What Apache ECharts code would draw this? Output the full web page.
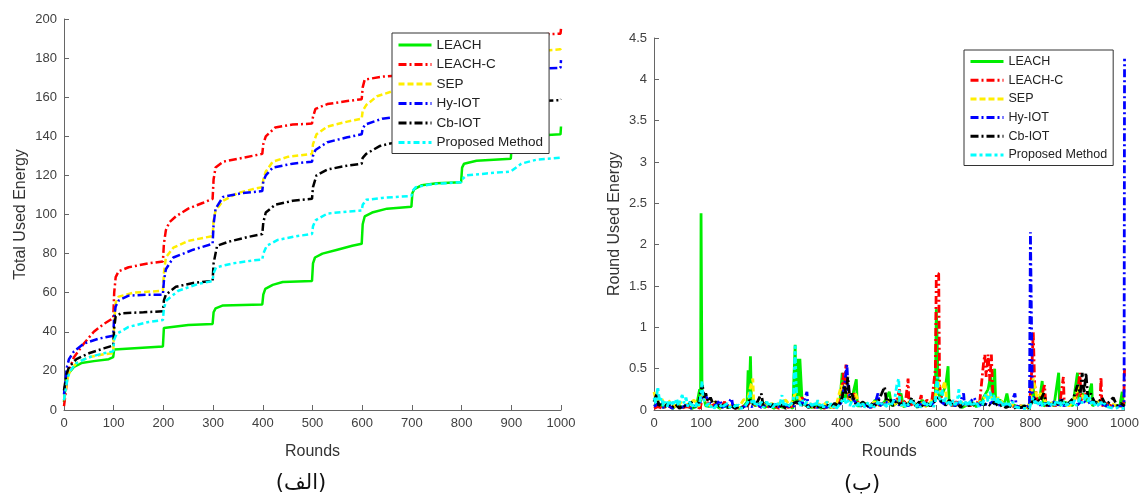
<!DOCTYPE html>
<html>
<head>
<meta charset="utf-8">
<script src="https://cdn.jsdelivr.net/npm/echarts@6/dist/echarts.min.js"></script>
<style>
html,body{margin:0;padding:0;background:#fff;}
#chart{width:1142px;height:495px;}
</style>
</head>
<body>
<div id="chart"></div>
<script>
// ---------- DATA ----------
const seriesNames = ['LEACH','LEACH-C','SEP','Hy-IOT','Cb-IOT','Proposed Method'];
const xTicks = [0,100,200,300,400,500,600,700,800,900,1000];
const totalTicks = [0,20,40,60,80,100,120,140,160,180,200];
const roundTicks = [0,0.5,1,1.5,2,2.5,3,3.5,4,4.5];

// Total Used Energy (left chart), [round, value]
const totalLEACH = [[0,4],[2,10],[5,16],[10,19],[20,22],[35,24],[60,25],[90,26],[99,27],[101,31],[105,32],[199,32.5],[201,42],[205,43],[250,43.5],[299,44],[301,50],[305,52],[320,53.5],[399,54],[401,59],[405,62],[420,64],[440,65.5],[499,66],[501,75],[505,78],[520,80],[550,82],[580,84],[599,85],[601,95],[605,99],[620,101],[650,103],[699,104],[701,111],[705,113],[720,115],[750,116],[799,116.5],[801,124],[805,126],[830,127.5],[899,128.5],[901,136],[905,138],[930,140],[999,141],[1000,145]];
const totalLEACHC = [[0,2],[3,8],[6,15],[10,20],[20,27],[40,34],[60,40],[80,44],[99,47],[101,60],[104,68],[110,71],[130,73],[170,75],[199,76],[201,85],[205,92],[212,96],[225,99],[250,103],[280,106],[299,108],[301,118],[305,124],[320,127],[360,129],[399,131],[401,136],[406,140],[425,144.5],[460,146],[499,146.5],[501,150],[506,154],[530,156.5],[570,158],[599,159],[601,165],[605,169],[640,170.5],[699,171.5],[701,177],[705,179],[799,182],[801,186],[805,188],[899,190],[901,191],[950,192],[999,192.5],[1000,195]];
const totalSEP = [[0,5],[3,10],[7,16],[12,20],[25,24],[50,27],[80,28.5],[99,29],[101,45],[104,55],[110,58],[140,60],[199,61],[201,70],[205,78],[220,83],[250,86.5],[280,88],[299,89],[301,97],[305,102],[320,107],[350,111],[380,113],[399,114],[401,118],[406,122],[420,127],[450,129.5],[499,131],[501,136],[508,141],[530,145],[570,147.5],[599,149],[601,153],[608,156],[630,160.5],[660,163],[699,164],[701,168],[799,172],[801,176],[899,179],[901,181],[950,183.5],[999,184.5],[1000,185]];
const totalHyIOT = [[0,8],[3,15],[6,22],[10,26],[20,30],[40,34],[70,36.5],[99,38],[101,48],[104,53],[110,56],[130,58.5],[170,59],[199,59],[201,66],[205,72],[220,78],[260,82],[299,85],[301,95],[305,103],[320,109],[360,111],[399,112],[401,117],[406,120],[420,124],[460,126],[499,127],[501,130],[506,133],[530,137],[570,139.5],[599,141],[601,144],[606,146],[640,149],[670,150],[699,151],[701,156],[799,160],[801,166],[899,170],[901,172],[950,174.5],[999,175],[1000,179]];
const totalCbIOT = [[0,10],[3,15],[6,19],[10,22],[25,26],[50,29],[80,31.5],[99,33],[101,42],[104,48],[115,49.5],[160,50],[199,50.5],[201,56],[205,59],[225,63],[260,65],[299,66],[301,75],[308,84],[330,86],[370,88.5],[399,90],[401,96],[406,101],[425,105],[460,107],[499,108],[501,114],[508,120],[530,123],[570,125],[599,126],[601,129],[608,131],[635,135],[660,136.5],[699,137],[701,143],[799,147],[801,151],[899,155],[901,156],[950,158],[999,158.5],[1000,159]];
const totalProposed = [[0,5],[3,10],[7,16],[12,20],[25,24],[50,27],[80,29],[99,30],[101,36],[106,39],[130,42.5],[170,45],[199,46],[201,52],[206,56],[230,61],[270,64.5],[299,66],[301,70],[306,73],[340,75],[380,76.5],[399,77],[401,80],[408,84],[430,87],[470,89],[499,90],[501,94],[506,97],[530,100.5],[570,101.5],[599,102],[601,105],[608,107.5],[640,108.5],[699,109.5],[701,112],[708,114],[740,115.5],[799,116.5],[801,118],[810,120],[850,121],[899,122],[901,123],[920,126],[950,128],[999,129]];

// Round Used Energy (right chart), [round, value]
const roundLEACH = [[0,0.05],[10,0.08],[20,0.03],[30,0.06],[40,0.02],[50,0.07],[60,0.03],[70,0.05],[80,0.02],[90,0.04],[97,0.25],[99,0.1],[100,2.38],[101,2.38],[102,0.25],[110,0.05],[120,0.04],[130,0.06],[140,0.02],[150,0.05],[160,0.03],[170,0.06],[180,0.02],[190,0.04],[198,0.1],[200,0.48],[202,0.1],[205,0.65],[207,0.1],[215,0.05],[225,0.08],[235,0.03],[245,0.06],[255,0.02],[265,0.05],[275,0.03],[285,0.06],[295,0.02],[300,0.79],[302,0.1],[305,0.62],[308,0.1],[310,0.62],[313,0.62],[315,0.08],[325,0.05],[335,0.03],[345,0.06],[355,0.02],[365,0.05],[375,0.03],[385,0.06],[395,0.1],[400,0.45],[403,0.1],[410,0.2],[420,0.1],[425,0.25],[430,0.37],[432,0.05],[440,0.05],[450,0.08],[460,0.03],[470,0.12],[480,0.05],[490,0.1],[500,0.22],[505,0.05],[515,0.08],[525,0.2],[530,0.04],[540,0.06],[550,0.1],[560,0.03],[570,0.12],[580,0.05],[590,0.08],[598,0.2],[600,1.22],[602,0.8],[604,0.2],[610,0.15],[620,0.3],[625,0.53],[627,0.1],[635,0.05],[645,0.08],[655,0.03],[665,0.06],[675,0.1],[685,0.04],[695,0.08],[700,0.15],[710,0.25],[715,0.4],[720,0.15],[724,0.5],[726,0.1],[735,0.12],[745,0.08],[750,0.2],[755,0.05],[765,0.06],[775,0.03],[785,0.05],[795,0.02],[800,0.1],[805,0.3],[810,0.08],[820,0.15],[825,0.35],[828,0.05],[840,0.08],[850,0.05],[860,0.45],[862,0.05],[870,0.1],[880,0.08],[890,0.05],[900,0.45],[903,0.1],[910,0.2],[920,0.1],[930,0.32],[932,0.05],[940,0.08],[950,0.1],[960,0.05],[970,0.04],[980,0.06],[990,0.05],[995,0.22],[998,0.05],[1000,0.1]];
const roundLEACHC = [[0,0.02],[8,0.04],[18,0.02],[28,0.05],[38,0.03],[48,0.06],[58,0.02],[68,0.04],[78,0.03],[88,0.05],[98,0.02],[105,0.2],[112,0.1],[122,0.05],[132,0.08],[142,0.03],[150,0.1],[155,0.03],[165,0.06],[175,0.02],[185,0.05],[195,0.03],[205,0.1],[215,0.06],[225,0.04],[235,0.08],[245,0.03],[255,0.05],[265,0.02],[275,0.06],[285,0.03],[295,0.05],[305,0.1],[315,0.15],[322,0.05],[332,0.06],[342,0.03],[352,0.05],[362,0.02],[372,0.06],[382,0.03],[392,0.07],[400,0.3],[402,0.45],[404,0.2],[408,0.55],[410,0.3],[415,0.1],[425,0.2],[435,0.08],[445,0.05],[455,0.06],[465,0.03],[475,0.08],[485,0.05],[495,0.1],[505,0.08],[515,0.1],[522,0.25],[525,0.05],[535,0.12],[540,0.38],[542,0.05],[552,0.08],[562,0.05],[568,0.18],[570,0.05],[580,0.12],[590,0.08],[598,0.5],[600,1.65],[605,1.65],[607,0.3],[612,0.1],[622,0.08],[632,0.05],[642,0.1],[652,0.04],[662,0.08],[672,0.05],[682,0.1],[692,0.08],[700,0.55],[703,0.67],[706,0.4],[710,0.67],[714,0.35],[717,0.67],[720,0.2],[728,0.1],[738,0.08],[748,0.05],[758,0.06],[768,0.03],[778,0.05],[788,0.04],[798,0.03],[803,0.5],[806,0.94],[809,0.3],[815,0.1],[825,0.2],[830,0.3],[833,0.05],[843,0.08],[853,0.05],[863,0.1],[870,0.4],[872,0.05],[882,0.08],[892,0.1],[900,0.2],[905,0.45],[908,0.1],[918,0.2],[928,0.1],[938,0.08],[948,0.1],[950,0.4],[952,0.05],[962,0.08],[972,0.05],[982,0.04],[992,0.03],[998,0.05],[1000,0.5]];
const roundSEP = [[0,0.22],[5,0.1],[15,0.15],[25,0.05],[35,0.12],[45,0.04],[55,0.1],[65,0.05],[75,0.08],[85,0.12],[95,0.04],[103,0.2],[110,0.08],[120,0.05],[130,0.1],[140,0.03],[150,0.06],[160,0.04],[170,0.08],[180,0.03],[190,0.12],[200,0.15],[206,0.3],[210,0.38],[212,0.1],[220,0.06],[230,0.1],[240,0.04],[250,0.08],[260,0.05],[270,0.1],[280,0.12],[290,0.05],[300,0.2],[308,0.15],[318,0.06],[328,0.1],[338,0.04],[348,0.08],[358,0.05],[368,0.1],[378,0.03],[388,0.07],[398,0.3],[403,0.2],[410,0.3],[418,0.1],[428,0.2],[438,0.06],[448,0.08],[458,0.04],[468,0.1],[478,0.05],[488,0.08],[498,0.12],[508,0.06],[518,0.1],[528,0.05],[538,0.08],[548,0.12],[558,0.05],[568,0.08],[578,0.04],[588,0.1],[598,0.15],[603,0.35],[610,0.2],[618,0.35],[622,0.1],[632,0.08],[642,0.05],[652,0.1],[662,0.06],[672,0.08],[682,0.05],[692,0.1],[702,0.15],[712,0.2],[722,0.1],[732,0.15],[742,0.08],[752,0.05],[762,0.06],[772,0.04],[782,0.05],[792,0.03],[800,0.1],[806,0.38],[810,0.4],[814,0.15],[822,0.2],[832,0.1],[842,0.08],[852,0.1],[862,0.06],[872,0.08],[882,0.05],[892,0.1],[902,0.3],[912,0.15],[922,0.1],[932,0.08],[942,0.1],[952,0.06],[962,0.05],[972,0.08],[982,0.05],[992,0.04],[1000,0.05]];
const roundHyIOT = [[0,0.04],[9,0.08],[19,0.03],[29,0.06],[39,0.02],[49,0.05],[59,0.03],[69,0.06],[79,0.02],[89,0.05],[99,0.1],[106,0.2],[112,0.15],[120,0.08],[130,0.05],[140,0.12],[145,0.03],[155,0.06],[165,0.14],[168,0.03],[178,0.05],[188,0.03],[198,0.06],[208,0.04],[218,0.08],[228,0.03],[238,0.06],[248,0.04],[258,0.07],[268,0.03],[278,0.06],[288,0.04],[298,0.05],[308,0.1],[318,0.08],[325,0.22],[327,0.05],[337,0.06],[347,0.03],[357,0.05],[367,0.03],[377,0.06],[387,0.04],[397,0.08],[405,0.3],[410,0.55],[413,0.2],[420,0.15],[430,0.08],[440,0.05],[450,0.06],[460,0.03],[470,0.08],[476,0.2],[480,0.05],[490,0.1],[500,0.08],[510,0.12],[520,0.06],[530,0.08],[540,0.05],[550,0.1],[560,0.04],[570,0.08],[580,0.05],[590,0.06],[600,0.15],[610,0.1],[620,0.06],[630,0.08],[640,0.05],[650,0.1],[658,0.2],[660,0.05],[670,0.08],[680,0.15],[690,0.05],[700,0.08],[710,0.06],[720,0.1],[730,0.05],[740,0.08],[750,0.05],[760,0.1],[767,0.2],[770,0.05],[780,0.03],[790,0.04],[798,0.05],[800,2.15],[802,2.15],[804,0.2],[810,0.1],[820,0.06],[830,0.08],[840,0.05],[850,0.1],[860,0.06],[866,0.15],[870,0.05],[880,0.08],[890,0.1],[900,0.06],[910,0.12],[920,0.08],[930,0.1],[940,0.05],[950,0.08],[960,0.05],[970,0.06],[980,0.04],[990,0.05],[999,0.05],[1000,4.25]];
const roundCbIOT = [[0,0.1],[6,0.2],[10,0.05],[16,0.1],[22,0.04],[30,0.08],[38,0.03],[46,0.07],[54,0.02],[62,0.06],[70,0.03],[78,0.1],[86,0.04],[94,0.06],[100,0.25],[103,0.3],[106,0.15],[110,0.2],[115,0.1],[120,0.15],[125,0.08],[132,0.1],[140,0.04],[148,0.06],[156,0.03],[164,0.05],[172,0.02],[180,0.04],[188,0.03],[196,0.05],[204,0.12],[212,0.06],[220,0.1],[228,0.2],[232,0.05],[240,0.1],[248,0.04],[256,0.08],[264,0.03],[272,0.06],[280,0.02],[288,0.05],[296,0.08],[304,0.1],[312,0.05],[320,0.08],[328,0.03],[336,0.06],[344,0.02],[352,0.05],[360,0.03],[368,0.06],[376,0.04],[384,0.08],[392,0.05],[400,0.15],[404,0.3],[408,0.2],[412,0.4],[416,0.15],[420,0.2],[428,0.08],[436,0.06],[444,0.1],[452,0.04],[460,0.08],[468,0.05],[476,0.1],[484,0.2],[490,0.28],[494,0.1],[500,0.15],[508,0.05],[516,0.12],[524,0.06],[532,0.1],[540,0.05],[548,0.15],[556,0.05],[564,0.1],[572,0.04],[580,0.08],[588,0.05],[596,0.1],[604,0.15],[612,0.1],[620,0.06],[628,0.12],[636,0.05],[644,0.08],[652,0.03],[660,0.1],[668,0.05],[676,0.08],[684,0.04],[692,0.1],[700,0.06],[708,0.08],[716,0.05],[724,0.1],[732,0.04],[740,0.06],[748,0.03],[756,0.05],[764,0.02],[772,0.04],[780,0.03],[788,0.05],[796,0.02],[804,0.1],[812,0.15],[820,0.1],[828,0.2],[836,0.05],[844,0.1],[852,0.06],[860,0.08],[868,0.12],[876,0.05],[884,0.1],[892,0.15],[900,0.3],[906,0.2],[910,0.45],[914,0.2],[918,0.45],[922,0.15],[928,0.2],[936,0.1],[944,0.08],[952,0.15],[960,0.06],[968,0.1],[976,0.15],[984,0.05],[992,0.08],[1000,0.05]];
const roundProposed = [[0,0.15],[4,0.08],[8,0.28],[12,0.1],[16,0.15],[20,0.05],[24,0.1],[28,0.04],[32,0.12],[36,0.05],[40,0.1],[44,0.06],[48,0.14],[52,0.05],[56,0.12],[60,0.18],[64,0.08],[68,0.15],[72,0.04],[76,0.1],[80,0.03],[84,0.08],[88,0.04],[92,0.1],[96,0.05],[100,0.2],[102,0.35],[104,0.15],[108,0.1],[112,0.05],[116,0.08],[120,0.03],[124,0.06],[128,0.02],[132,0.05],[136,0.03],[140,0.07],[144,0.02],[148,0.05],[152,0.03],[156,0.08],[160,0.04],[164,0.06],[168,0.02],[172,0.05],[176,0.03],[180,0.06],[184,0.02],[188,0.04],[192,0.03],[196,0.05],[200,0.1],[204,0.22],[208,0.08],[212,0.12],[216,0.04],[220,0.08],[224,0.05],[228,0.1],[232,0.03],[236,0.07],[240,0.1],[244,0.04],[248,0.08],[252,0.03],[256,0.06],[260,0.1],[264,0.04],[268,0.08],[272,0.18],[276,0.05],[280,0.08],[284,0.03],[288,0.06],[292,0.04],[296,0.1],[300,0.78],[302,0.3],[304,0.15],[308,0.1],[312,0.05],[316,0.12],[320,0.06],[324,0.1],[328,0.03],[332,0.08],[336,0.05],[340,0.1],[344,0.04],[348,0.12],[352,0.05],[356,0.08],[360,0.03],[364,0.06],[368,0.1],[372,0.04],[376,0.08],[380,0.03],[384,0.06],[388,0.02],[392,0.05],[396,0.08],[400,0.1],[404,0.15],[408,0.08],[412,0.12],[416,0.05],[420,0.1],[424,0.04],[428,0.08],[432,0.05],[436,0.1],[440,0.04],[444,0.08],[448,0.03],[452,0.06],[456,0.1],[460,0.04],[464,0.08],[468,0.03],[472,0.06],[476,0.1],[480,0.05],[484,0.08],[488,0.04],[492,0.07],[496,0.03],[500,0.08],[504,0.05],[508,0.1],[512,0.15],[516,0.3],[520,0.38],[522,0.1],[526,0.05],[530,0.1],[534,0.04],[538,0.08],[542,0.05],[546,0.12],[550,0.06],[554,0.1],[558,0.04],[562,0.08],[566,0.03],[570,0.06],[574,0.1],[578,0.04],[582,0.08],[586,0.05],[590,0.1],[594,0.04],[598,0.08],[600,0.3],[602,0.4],[604,0.2],[608,0.12],[612,0.25],[616,0.08],[620,0.15],[624,0.06],[628,0.1],[632,0.05],[636,0.12],[640,0.06],[644,0.1],[648,0.25],[650,0.08],[654,0.12],[658,0.05],[662,0.1],[666,0.04],[670,0.12],[674,0.06],[678,0.1],[682,0.05],[686,0.08],[690,0.04],[694,0.1],[698,0.05],[702,0.15],[706,0.2],[710,0.1],[714,0.22],[718,0.12],[722,0.18],[726,0.08],[730,0.15],[734,0.06],[738,0.12],[742,0.05],[746,0.1],[750,0.04],[754,0.08],[758,0.05],[762,0.1],[766,0.04],[770,0.06],[774,0.03],[778,0.05],[782,0.02],[786,0.04],[790,0.02],[794,0.03],[798,0.02],[802,0.1],[806,0.15],[810,0.08],[814,0.12],[818,0.06],[822,0.1],[826,0.04],[830,0.08],[834,0.05],[838,0.1],[842,0.04],[846,0.08],[850,0.05],[854,0.1],[858,0.06],[862,0.12],[866,0.05],[870,0.1],[874,0.04],[878,0.08],[882,0.05],[886,0.1],[890,0.06],[894,0.12],[898,0.05],[902,0.1],[906,0.15],[910,0.08],[914,0.12],[918,0.2],[922,0.1],[926,0.15],[930,0.06],[934,0.1],[938,0.05],[942,0.08],[946,0.04],[950,0.1],[954,0.05],[958,0.08],[962,0.04],[966,0.06],[970,0.03],[974,0.05],[978,0.02],[982,0.04],[986,0.03],[990,0.05],[994,0.02],[998,0.04],[1000,0.02]];

// ---------- STYLE ----------
const colors = ['#00ee00','#ff0000','#ffee00','#0000ff','#000000','#00ffff'];
const dashes = ['solid',[8,3,2,3],[6,3],[8,3,2,3],[8,3,2,3],[6,3,3,3]];
const totalData = [totalLEACH,totalLEACHC,totalSEP,totalHyIOT,totalCbIOT,totalProposed];
const roundData = [roundLEACH,roundLEACHC,roundSEP,roundHyIOT,roundCbIOT,roundProposed];
const FONT = 'Liberation Sans, Arial, Helvetica, sans-serif';

const chart = echarts.init(document.getElementById('chart'), null, {renderer:'canvas'});

function xAxisCfg(gi){
  return {
    type:'value', gridIndex:gi, min:0, max:1000, interval:100,
    name:'Rounds', nameLocation:'middle', nameGap:34,
    nameTextStyle:{fontFamily:FONT, fontSize:16, color:'#333'},
    axisLine:{show:true, lineStyle:{color:'#666', width:1}},
    axisTick:{show:true, inside:true, length:5, lineStyle:{color:'#666'}},
    axisLabel:{fontFamily:FONT, fontSize:13, color:'#404040', margin:7,
      formatter:function(v){ return xTicks.indexOf(v) >= 0 ? String(v) : ''; }},
    splitLine:{show:false}
  };
}
function yAxisCfg(gi, name, max, interval, gap, labels){
  return {
    type:'value', gridIndex:gi, min:0, max:max, interval:interval,
    name:name, nameLocation:'middle', nameGap:gap,
    nameTextStyle:{fontFamily:FONT, fontSize:16, color:'#333'},
    axisLine:{show:true, lineStyle:{color:'#666', width:1}},
    axisTick:{show:true, inside:true, length:5, lineStyle:{color:'#666'}},
    axisLabel:{fontFamily:FONT, fontSize:13, color:'#404040', margin:7,
      formatter:function(v){ return labels.indexOf(v) >= 0 ? String(v) : ''; }},
    splitLine:{show:false}
  };
}

const series = [];
seriesNames.forEach(function(n,i){
  series.push({
    name:n, type:'line', xAxisIndex:0, yAxisIndex:0, data:totalData[i],
    showSymbol:false, symbol:'none', animation:false,
    lineStyle:{color:colors[i], width:2.5, type:dashes[i]},
    itemStyle:{color:colors[i]}
  });
});
seriesNames.forEach(function(n,i){
  series.push({
    name:n, type:'line', xAxisIndex:1, yAxisIndex:1, data:roundData[i],
    showSymbol:false, symbol:'none', animation:false,
    lineStyle:{color:colors[i], width:2.8, type:dashes[i]},
    itemStyle:{color:colors[i]}
  });
});

function legendCfg(left, top, fs, ih, gap){
  return {
    data:seriesNames, orient:'vertical', left:left, top:top,
    itemWidth:33, itemHeight:ih, itemGap:gap,
    backgroundColor:'#fff', borderColor:'#333', borderWidth:1,
    padding:[5,6,4,5], selectedMode:false,
    itemStyle:{opacity:0},
    lineStyle:{width:3},
    textStyle:{fontFamily:FONT, fontSize:fs, color:'#222'},
    z:10
  };
}

chart.setOption({
  backgroundColor:'#ffffff',
  animation:false,
  grid:[
    {left:64, top:19, width:497, height:391, containLabel:false},
    {left:654, top:38, width:474, height:372, containLabel:false}
  ],
  xAxis:[xAxisCfg(0), xAxisCfg(1)],
  yAxis:[
    yAxisCfg(0,'Total Used Energy',200,20,35,totalTicks),
    yAxisCfg(1,'Round Used Energy',4.5,0.5,31,roundTicks)
  ],
  legend:[
    legendCfg(392,33,13.5,14,5.5),
    legendCfg(964,50,12.5,13,5.7)
  ],
  graphic:[
    {type:'text', x:301, y:484, style:{text:'(الف)', x:0, y:0, textAlign:'center', textVerticalAlign:'middle', font:'21px "DejaVu Sans", sans-serif', fill:'#111'}},
    {type:'text', x:862, y:485, style:{text:'(ب)', x:0, y:0, textAlign:'center', textVerticalAlign:'middle', font:'21px "DejaVu Sans", sans-serif', fill:'#111'}}
  ],
  series:series
});
</script>
</body>
</html>
